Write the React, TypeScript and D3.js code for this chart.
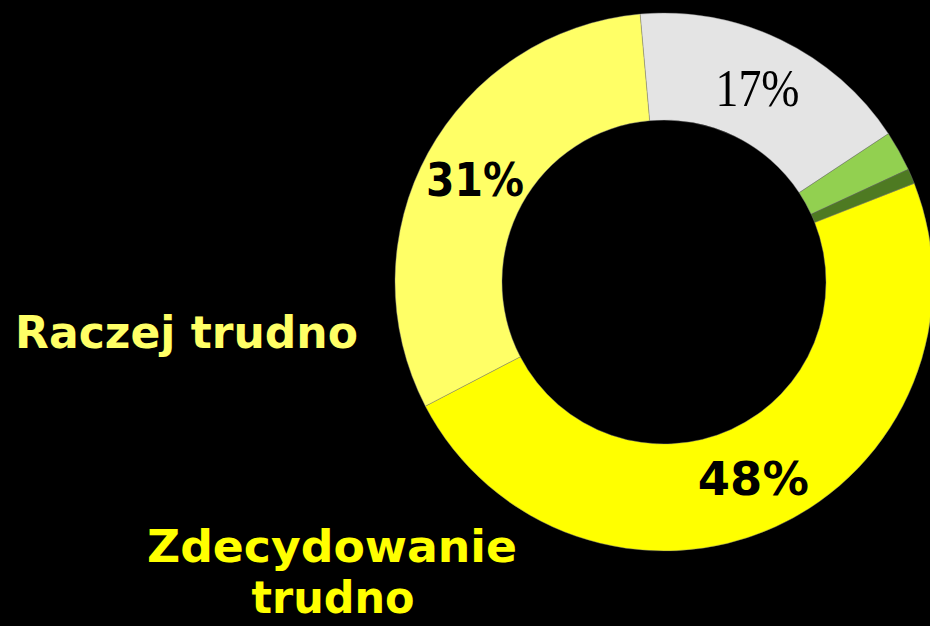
import React from "react";
import * as d3 from "d3";

// Answer shares (percent), in drawing order clockwise from the top
const categories = [
  "Raczej łatwo",
  "Zdecydowanie łatwo",
  "Trudno powiedzieć",
  "Zdecydowanie trudno",
  "Raczej trudno",
];
const shares = [17, 2.4, 0.9, 48, 31];
const sliceLabels = ["17%", "", "", "48%", "31%"];
const sliceColors = ["#e4e4e4", "#92d050", "#4e7a22", "#ffff00", "#ffff66"];

const WIDTH = 930;
const HEIGHT = 626;

export default function App() {
  const cx = 664;
  const cy = 282;
  const outerR = 269;
  const innerR = 162;

  const startDeg = -5.1;
  const pie = d3
    .pie<number>()
    .sort(null)
    .value((d) => d)
    .startAngle((startDeg * Math.PI) / 180)
    .endAngle(((startDeg + 360) * Math.PI) / 180);

  const arcs = pie(shares);
  const arc = d3.arc<d3.PieArcDatum<number>>().innerRadius(innerR).outerRadius(outerR);

  const boldFont = "'DejaVu Sans', sans-serif";

  return (
    <svg
      width={WIDTH}
      height={HEIGHT}
      style={{ position: "absolute", left: 0, top: 0, background: "#000" }}
    >
      <rect x={0} y={0} width={WIDTH} height={HEIGHT} fill="#000" />
      <g transform={`translate(${cx},${cy})`}>
        {arcs.map((a, i) => (
          <path
            key={categories[i]}
            d={arc(a) || ""}
            fill={sliceColors[i]}
            stroke="rgba(128,128,128,0.7)"
            strokeWidth={0.6}
          />
        ))}
        {arcs.map((a, i) => {
          if (!sliceLabels[i]) return null;
          const [x, y] = arc.centroid(a);
          const thin = i === 0;
          return (
            <text
              key={"l" + i}
              x={x}
              y={y + (thin ? 18 : 17)}
              textAnchor="middle"
              fill="#000"
              fontFamily={thin ? "'Liberation Serif', serif" : boldFont}
              fontWeight={thin ? 400 : 700}
              fontSize={thin ? 52 : 46}
              textLength={thin ? 84 : i === 3 ? 111 : 98}
              lengthAdjust="spacingAndGlyphs"
            >
              {sliceLabels[i]}
            </text>
          );
        })}
      </g>
      <text
        x={15}
        y={348}
        fill="#ffff66"
        fontFamily={boldFont}
        fontWeight={700}
        fontSize={45}
        textLength={343}
        lengthAdjust="spacingAndGlyphs"
      >
        Raczej trudno
      </text>
      <text
        x={332}
        y={562}
        textAnchor="middle"
        fill="#ffff00"
        fontFamily={boldFont}
        fontWeight={700}
        fontSize={45}
        textLength={370}
        lengthAdjust="spacingAndGlyphs"
      >
        Zdecydowanie
      </text>
      <text
        x={333}
        y={613}
        textAnchor="middle"
        fill="#ffff00"
        fontFamily={boldFont}
        fontWeight={700}
        fontSize={45}
        textLength={163}
        lengthAdjust="spacingAndGlyphs"
      >
        trudno
      </text>
    </svg>
  );
}
